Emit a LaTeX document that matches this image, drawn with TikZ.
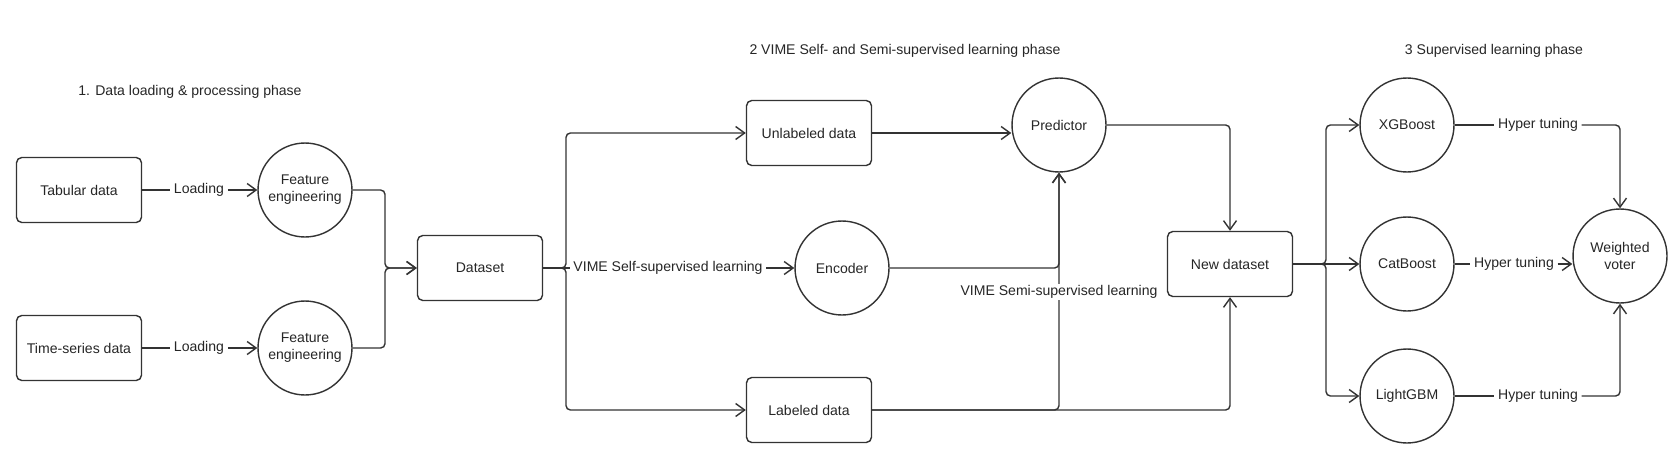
\documentclass[tikz,border=0pt]{standalone}
\usepackage{fontspec}
\setmainfont{Liberation Sans}
\usetikzlibrary{arrows.meta}

\begin{document}
\begin{tikzpicture}[x=0.02cm,y=-0.02cm,
    every node/.style={font=\fontsize{8}{9.6}\selectfont,text=black!85},
    box/.style={rectangle,rounded corners=3pt,draw=black!80,line width=0.8pt,minimum width=2.5cm,minimum height=1.3cm},
    ball/.style={circle,draw=black!80,line width=0.8pt,minimum size=1.88cm,inner sep=0pt,align=center},
    lbl/.style={inner sep=2pt},
    arr/.style={-{Straight Barb[length=1.8mm,width=2.6mm]}},
    conn/.style={draw=black!80,line width=0.8pt,rounded corners=2.5pt}]
    \useasboundingbox (0,0) rectangle (1672,466);

    % phase titles
    \node (t1) at (190,92) {1. Data loading \& processing phase};
    \node (t2) at (905,51) {2 VIME Self- and Semi-supervised learning phase};
    \node (t3) at (1494,51) {3 Supervised learning phase};

    % 1. loading
    \node[box] (tab) at (79,190) {Tabular data};
    \node[box] (ts) at (79,348) {Time-series data};
    \node[ball] (fe1) at (305,190) {Feature\\engineering};
    \node[ball] (fe2) at (305,348) {Feature\\engineering};
    \node[box] (ds) at (480,268) {Dataset};
    \node[lbl] (ld1) at (199,190) {Loading};
    \node[lbl] (ld2) at (199,348) {Loading};
    \coordinate (j1) at (385,268);

    \draw[conn] (tab) -- (ld1);
    \draw[conn,arr] (ld1) -- (fe1);
    \draw[conn] (ts) -- (ld2);
    \draw[conn,arr] (ld2) -- (fe2);
    \draw[conn,arr] (fe1.east) -| (j1) -- (ds.west);
    \draw[conn,arr] (fe2.east) -| (j1) -- (ds.west);

    % 2. VIME
    \node[box] (unl) at (809,133) {Unlabeled data};
    \node[ball] (enc) at (842,268) {Encoder};
    \node[box] (lab) at (809,410) {Labeled data};
    \node[ball] (pred) at (1059,125) {Predictor};
    \node[box] (nd) at (1230,264) {New dataset};
    \node[lbl] (vss) at (668,268) {VIME Self-supervised learning};
    \coordinate (br1) at (566,268);

    \draw[conn,arr] (ds.east) -- (br1) |- (unl.west);
    \draw[conn,arr] (ds.east) -- (br1) |- (lab.west);
    \draw[conn] (ds.east) -- (vss);
    \draw[conn,arr] (vss) -- (enc);
    \draw[conn,arr] (unl.east) -- (pred.west |- unl.east);
    \draw[conn,arr] (enc.east) -| (pred.south);
    \draw[conn,arr] (lab.east) -| (pred.south);
    \draw[conn,arr] (lab.east) -| (nd.south);
    \draw[conn,arr] (pred.east) -| (nd.north);
    \node[lbl,fill=white,inner sep=1pt] (vsm) at (1059,292) {VIME Semi-supervised learning};

    % 3. supervised
    \node[ball] (xgb) at (1407,125) {XGBoost};
    \node[ball] (cat) at (1407,264) {CatBoost};
    \node[ball] (lgb) at (1407,396) {LightGBM};
    \node[ball] (wv) at (1620,256) {Weighted\\voter};
    \node[lbl] (ht1) at (1538,125) {Hyper tuning};
    \node[lbl] (ht2) at (1514,264) {Hyper tuning};
    \node[lbl] (ht3) at (1538,396) {Hyper tuning};
    \coordinate (br2) at (1326,264);

    \draw[conn,arr] (nd.east) -- (br2) |- (xgb.west);
    \draw[conn,arr] (nd.east) -- (cat.west);
    \draw[conn,arr] (nd.east) -- (br2) |- (lgb.west);
    \draw[conn] (xgb) -- (ht1);
    \draw[conn,arr] (ht1) -| (wv.north);
    \draw[conn] (cat) -- (ht2);
    \draw[conn,arr] (ht2) -- (ht2 -| wv.west);
    \draw[conn] (lgb) -- (ht3);
    \draw[conn,arr] (ht3) -| (wv.south);
\end{tikzpicture}
\end{document}
